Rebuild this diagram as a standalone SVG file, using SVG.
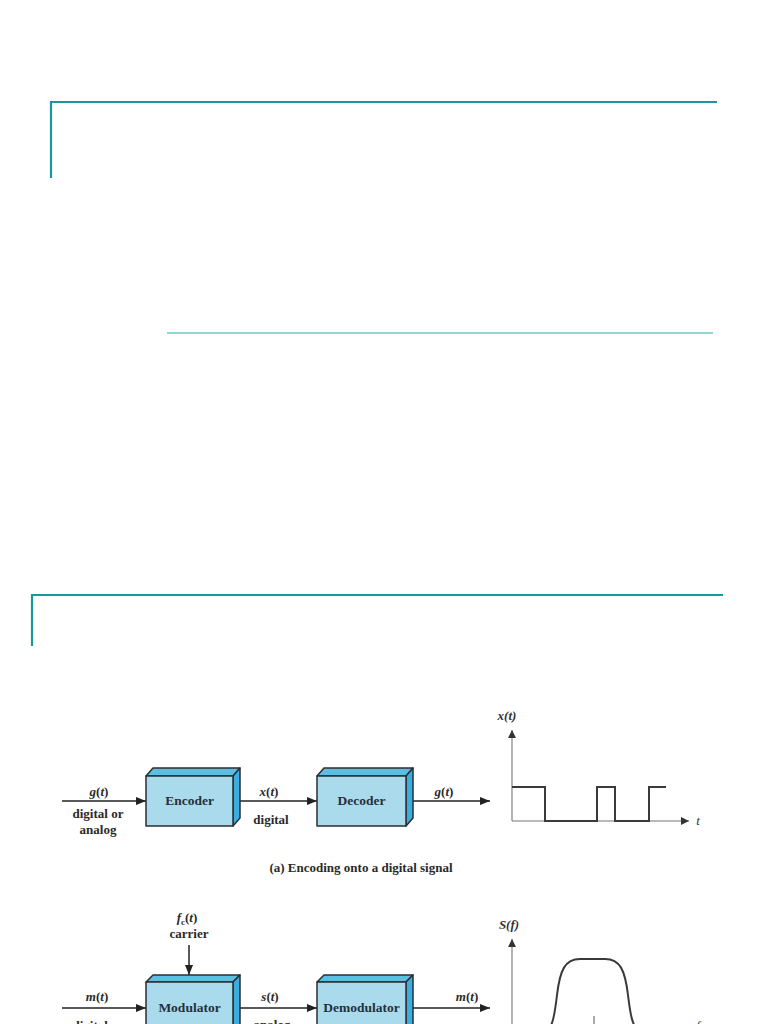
<svg xmlns="http://www.w3.org/2000/svg" width="768" height="1024" viewBox="0 0 768 1024">
<defs>
<style>
.rule{stroke:#16999a;stroke-width:2.2;fill:none}
.rule2{stroke:#6cc8c4;stroke-width:1.6;fill:none}
.front{fill:#aadbec;stroke:#2b2f33;stroke-width:1.5;stroke-linejoin:round}
.top{fill:#5cbfe2;stroke:#2b2f33;stroke-width:1.5;stroke-linejoin:round}
.side{fill:#3aaee0;stroke:#2b2f33;stroke-width:1.5;stroke-linejoin:round}
.lbl{font-family:"Liberation Serif","Times New Roman",serif;font-weight:bold;font-size:13px;fill:#2a2a2a;text-anchor:middle}
.box{font-family:"Liberation Serif","Times New Roman",serif;font-weight:bold;font-size:13.5px;fill:#26303c;text-anchor:middle}
.ax{font-family:"Liberation Serif","Times New Roman",serif;font-style:italic;font-size:13px;fill:#333;text-anchor:middle}
.conn{stroke:#222;stroke-width:1.5;fill:none;marker-end:url(#ah)}
.axis{stroke:#777;stroke-width:1.1;fill:none;marker-end:url(#ah2)}
.sig{stroke:#3a3a3a;stroke-width:2;fill:none}
</style>
<marker id="ah" viewBox="0 0 10 8" refX="10" refY="4" markerWidth="10" markerHeight="8" markerUnits="userSpaceOnUse" orient="auto">
<path d="M0,0 L10,4 L0,8 Z" fill="#222"/>
</marker>
<marker id="ah2" viewBox="0 0 8 8" refX="8" refY="4" markerWidth="8" markerHeight="8" markerUnits="userSpaceOnUse" orient="auto">
<path d="M0,0 L8,4 L0,8 Z" fill="#333"/>
</marker>
</defs>
<rect width="768" height="1024" fill="#ffffff"/>

<g id="rules">
<path class="rule" d="M51,178 V102 H717"/>
<path class="rule2" d="M167,333 H713"/>
<path class="rule" d="M32,646 V595 H723"/>
</g>

<g id="connectors">
<line class="conn" x1="62" y1="801" x2="146" y2="801"/>
<line class="conn" x1="240" y1="801" x2="317" y2="801"/>
<line class="conn" x1="413" y1="801" x2="490" y2="801"/>
<line class="conn" x1="189" y1="945" x2="189" y2="975"/>
<line class="conn" x1="62" y1="1008" x2="146" y2="1008"/>
<line class="conn" x1="240" y1="1008" x2="317" y2="1008"/>
<line class="conn" x1="413" y1="1008" x2="490" y2="1008"/>
</g>

<g id="encoder">
<polygon class="top" points="146,776 153,768 240,768 233,776"/>
<polygon class="side" points="233,776 240,768 240,818 233,826"/>
<rect class="front" x="146" y="776" width="87" height="50"/>
<text class="box" x="189.5" y="805">Encoder</text>
</g>

<g id="decoder">
<polygon class="top" points="317,776 324,768 413,768 406,776"/>
<polygon class="side" points="406,776 413,768 413,818 406,826"/>
<rect class="front" x="317" y="776" width="89" height="50"/>
<text class="box" x="361.5" y="805">Decoder</text>
</g>

<g id="modulator">
<polygon class="top" points="146,982 153,975 240,975 233,982"/>
<polygon class="side" points="233,982 240,975 240,1040 233,1047"/>
<rect class="front" x="146" y="982" width="87" height="65"/>
<text class="box" x="189.5" y="1012">Modulator</text>
</g>

<g id="demodulator">
<polygon class="top" points="317,982 324,975 413,975 406,982"/>
<polygon class="side" points="406,982 413,975 413,1040 406,1047"/>
<rect class="front" x="317" y="982" width="89" height="65"/>
<text class="box" x="361.5" y="1012">Demodulator</text>
</g>

<g id="labels-a">
<text class="lbl" x="99" y="796"><tspan font-style="italic">g</tspan>(<tspan font-style="italic">t</tspan>)</text>
<text class="lbl" x="98" y="818">digital or</text>
<text class="lbl" x="98" y="834">analog</text>
<text class="lbl" x="269" y="796"><tspan font-style="italic">x</tspan>(<tspan font-style="italic">t</tspan>)</text>
<text class="lbl" x="271" y="824">digital</text>
<text class="lbl" x="444" y="796"><tspan font-style="italic">g</tspan>(<tspan font-style="italic">t</tspan>)</text>
<text class="lbl" x="361" y="872">(a) Encoding onto a digital signal</text>
</g>

<g id="graph-x">
<line class="axis" x1="512" y1="821" x2="512" y2="730"/>
<line class="axis" x1="512" y1="821" x2="689" y2="821"/>
<path class="sig" d="M512,787 H545 V821 H597 V787 H615 V821 H649 V787 H666"/>
<text class="ax" x="507" y="720" font-weight="bold">x(t)</text>
<text class="ax" x="698" y="825">t</text>
</g>

<g id="labels-b">
<text class="lbl" x="187" y="922"><tspan font-style="italic">f</tspan><tspan font-size="9" dy="3">c</tspan><tspan dy="-3">(</tspan><tspan font-style="italic">t</tspan>)</text>
<text class="lbl" x="189" y="938">carrier</text>
<text class="lbl" x="97" y="1001"><tspan font-style="italic">m</tspan>(<tspan font-style="italic">t</tspan>)</text>
<text class="lbl" x="98" y="1030">digital or</text>
<text class="lbl" x="270" y="1001"><tspan font-style="italic">s</tspan>(<tspan font-style="italic">t</tspan>)</text>
<text class="lbl" x="272" y="1029">analog</text>
<text class="lbl" x="467" y="1001"><tspan font-style="italic">m</tspan>(<tspan font-style="italic">t</tspan>)</text>
</g>

<g id="graph-s">
<line class="axis" x1="512" y1="1040" x2="512" y2="939"/>
<path class="sig" d="M545,1034 C553,1028 555,1012 557,995 C560,970 565,959 580,959 L605,959 C620,959 625,970 628,995 C630,1012 632,1028 641,1034"/>
<line x1="594" y1="1016" x2="594" y2="1030" stroke="#555" stroke-width="1"/>
<text class="ax" x="509" y="929" font-weight="bold">S(f)</text>
<text class="ax" x="698" y="1030">f</text>
</g>
</svg>
